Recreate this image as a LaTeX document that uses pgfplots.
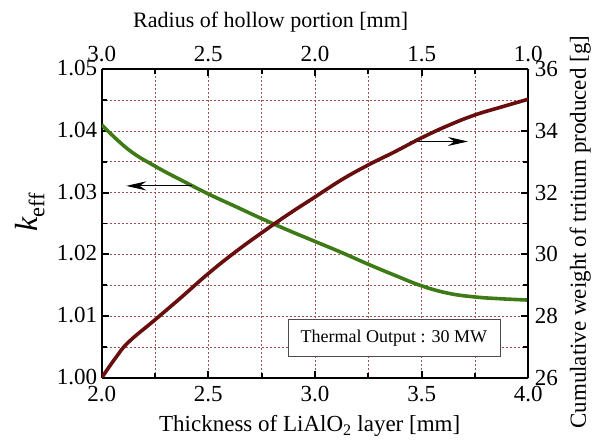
\documentclass[border=0pt]{standalone}
\usepackage{fontspec}
\setmainfont{Liberation Serif}
\usepackage{pgfplots}
\pgfplotsset{compat=1.18}
\usetikzlibrary{arrows.meta}
\definecolor{kgreen}{RGB}{62,122,22}
\definecolor{tred}{RGB}{104,14,14}
\definecolor{gridc}{RGB}{160,80,80}
\pgfplotsset{
  common/.style={
    scale only axis, width=426.6pt, height=308.5pt,
    xmin=2, xmax=4,
    /pgf/number format/assume math mode=true,
    tick label style={font=\fontsize{23}{25}\selectfont},
    tick align=inside,
    major tick length=7pt, minor tick length=5pt,
    every tick/.style={black, line width=1.8pt},
    axis line style={line width=2.2pt},
  }
}
\begin{document}
\begin{tikzpicture}
\begin{axis}[common, name=main,
  axis x line*=bottom, axis y line*=left,
  ymin=1.00, ymax=1.05,
  xtick={2,2.5,3,3.5,4}, minor xtick={2.25,2.75,3.25,3.75},
  xticklabels={2.0,2.5,3.0,3.5,4.0},
  ytick={1.00,1.01,1.02,1.03,1.04,1.05},
  yticklabels={1.00,1.01,1.02,1.03,1.04,1.05},
  minor ytick={1.005,1.015,1.025,1.035,1.045},
  grid=both,
  major grid style={gridc, line width=0.7pt, dash pattern=on 2pt off 2pt},
  minor grid style={gridc, line width=0.7pt, dash pattern=on 2pt off 2pt},
  xticklabel style={yshift=-5pt},
  yticklabel style={xshift=-1pt, yshift=1pt},
]
\addplot[kgreen, line width=3.6pt, smooth, tension=0.7] coordinates {
 (2.0,1.0410) (2.125,1.0370) (2.25,1.0343) (2.375,1.0320) (2.5,1.0298)
 (2.625,1.0278) (2.75,1.0258) (2.875,1.0239) (3.0,1.0221) (3.125,1.0203)
 (3.25,1.0184) (3.375,1.0166) (3.5,1.0149) (3.625,1.0137) (3.75,1.0131)
 (3.875,1.0128) (4.0,1.0126)};
\draw[line width=0.9pt, -{Stealth[length=20pt,width=9pt]}] (axis cs:2.422,1.0311) -- (axis cs:2.115,1.0311);
\draw[line width=0.9pt, -{Stealth[length=20pt,width=9pt]}] (axis cs:3.445,1.0383) -- (axis cs:3.717,1.0383);
\node[draw=black!70, line width=0.8pt, fill=white, font=\fontsize{18}{20}\selectfont,
  minimum width=212pt, minimum height=37pt, inner sep=0pt] at (axis cs:3.37,1.00648) {Thermal Output : 30 MW};
\end{axis}
\begin{axis}[common,
  axis x line*=top, axis y line*=right,
  ymin=26, ymax=36,
  xtick={2,2.5,3,3.5,4}, minor xtick={2.25,2.75,3.25,3.75},
  xticklabels={3.0,2.5,2.0,1.5,1.0},
  ytick={26,28,30,32,34,36}, minor ytick={27,29,31,33,35},
  xticklabel style={yshift=4pt},
  yticklabel style={xshift=3pt, yshift=0pt},
]
\addplot[tred, line width=3.6pt, smooth, tension=0.7] coordinates {
 (2.0,26.0) (2.0625,26.62) (2.125,27.15) (2.25,27.88) (2.375,28.62) (2.5,29.38)
 (2.625,30.07) (2.75,30.70) (2.875,31.30) (3.0,31.86) (3.125,32.42) (3.25,32.90)
 (3.375,33.33) (3.5,33.78) (3.625,34.18) (3.75,34.52) (3.875,34.78) (4.0,35.03)};
\end{axis}
\node[anchor=base, font=\fontsize{23}{25}\selectfont] at ([shift={(208pt,-54pt)}]main.south west) {Thickness of LiAlO\textsubscript{2} layer [mm]};
\node[anchor=base, font=\fontsize{22}{24}\selectfont] at ([shift={(169pt,42pt)}]main.north west) {Radius of hollow portion [mm]};
\node[rotate=90, font=\fontsize{23}{25}\selectfont] at ([shift={(52pt,-163pt)}]main.north east) {Cumulative weight of tritium produced [g]};
\node[rotate=90, font=\fontsize{32}{34}\selectfont] at ([shift={(-72pt,166pt)}]main.south west) {\itshape k\textsubscript{\upshape eff}};
\pgfresetboundingbox
\path ([shift={(-101.7pt,-61.5pt)}]main.south west) rectangle ([shift={(73.7pt,69.3pt)}]main.north east);
\end{tikzpicture}
\end{document}
